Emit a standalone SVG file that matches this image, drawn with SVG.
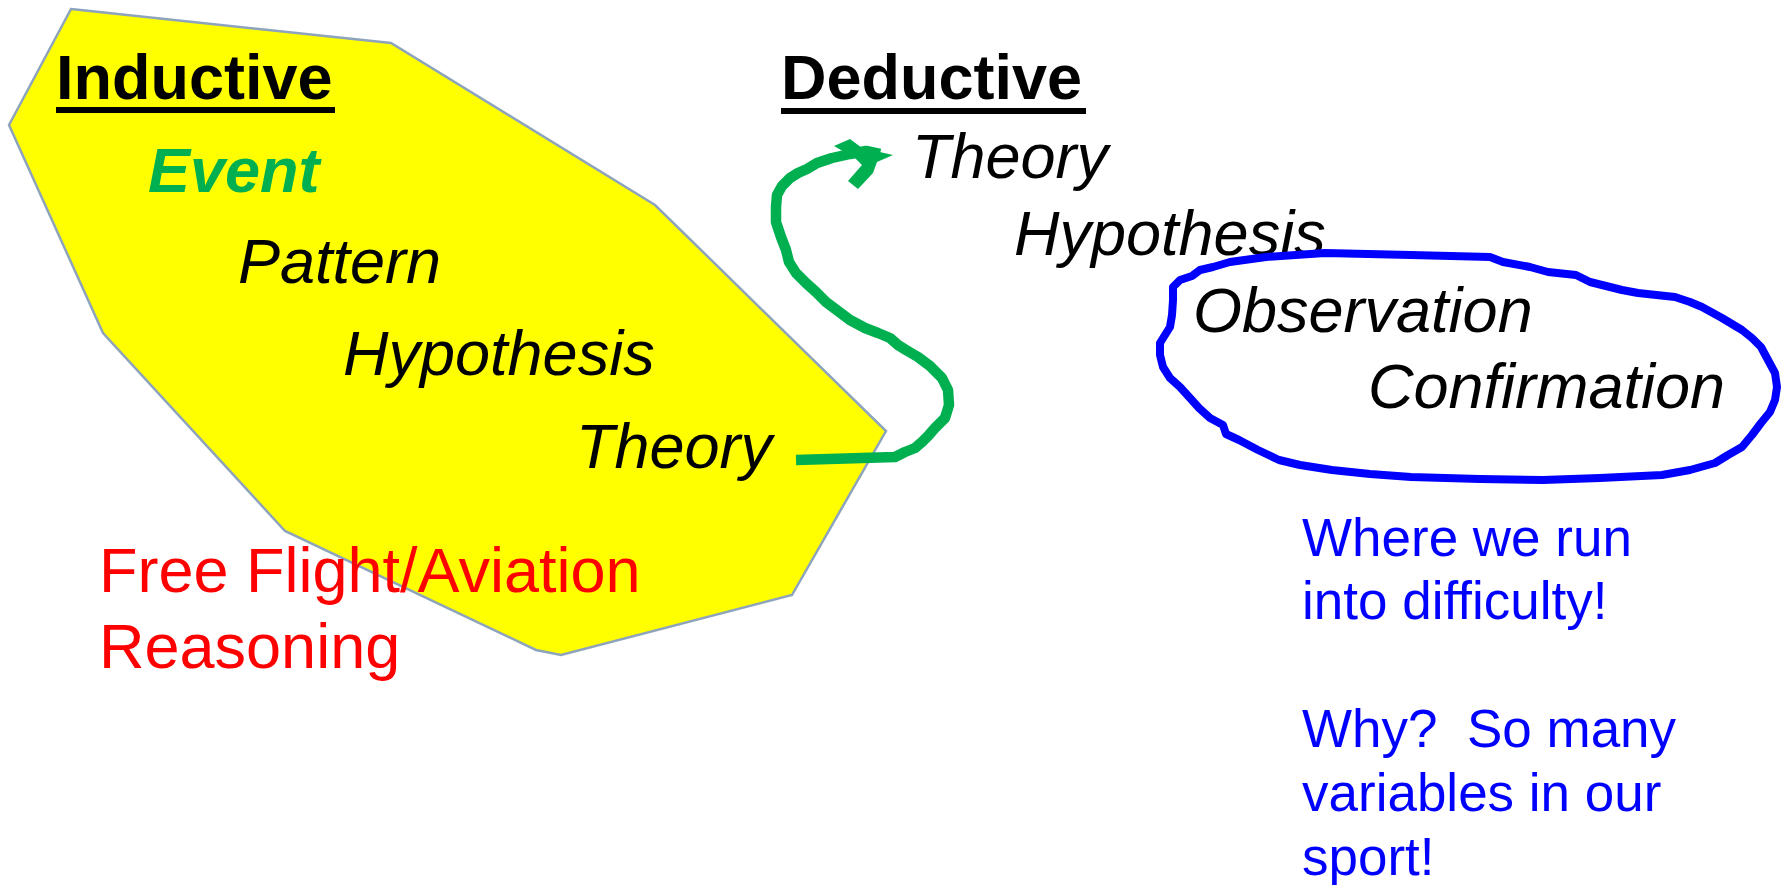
<svg xmlns="http://www.w3.org/2000/svg" width="1787" height="885" viewBox="0 0 1787 885">
<style>
.t{font-family:"Liberation Sans",Arial,sans-serif;font-size:63px;}
.h{font-weight:bold;fill:#000;}
.i{font-style:italic;fill:#000;}
.red{fill:#FF0000;}
.blue{fill:#0000FF;font-size:53px;}
</style>
<rect width="1787" height="885" fill="#fff"/>
<g id="inductive-region">
<polygon points="71,9 391,43 655,205 886,431 792,595 561,655 536,650 285,531 103,333 9,125" fill="#FFFF00" stroke="#8EA4BC" stroke-width="2.5"/>
</g>
<g id="inductive-title">
<text class="t h" x="56" y="99">Inductive</text>
<rect x="56" y="107" width="279" height="6" fill="#000"/>
</g>
<g id="event"><text class="t" x="148" y="192" font-weight="bold" font-style="italic" fill="#00B050">Event</text></g>
<g id="pattern"><text class="t i" x="238" y="283">Pattern</text></g>
<g id="hypothesis-ind"><text class="t i" x="343" y="375">Hypothesis</text></g>
<g id="theory-ind"><text class="t i" x="576" y="468">Theory</text></g>
<g id="free-flight"><text class="t red" x="99" y="592">Free Flight/Aviation</text><text class="t red" x="99" y="668">Reasoning</text></g>
<g id="deductive-title">
<text class="t h" x="781" y="99">Deductive</text>
<rect x="781" y="108" width="305" height="6" fill="#000"/>
</g>
<g id="theory-ded"><text class="t i" x="912" y="178">Theory</text></g>
<g id="hypothesis-ded"><text class="t i" x="1014" y="255">Hypothesis</text></g>
<g id="observation"><text class="t i" x="1193" y="332">Observation</text></g>
<g id="confirmation"><text class="t i" x="1368" y="408">Confirmation</text></g>
<g id="connectors" fill="none" stroke-linejoin="round" stroke-linecap="butt">
<path d="M796,460 L895,457 L905,452 L915,448 L922,442 L928,436 L935,428 L945,418 L949,405 L948,390 L942,378 L930,366 L918,357 L906,350 L898,345 L890,338 L878,333 L865,328 L850,320 L838,311 L826,302 L816,292 L806,283 L796,273 L789,262 L786,250 L781,237 L776,222 L776,207 L777,195 L782,186 L790,178 L798,173 L807,169 L817,163 L832,158 L850,154 L866,151 L880,154" stroke="#00B050" stroke-width="10.5"/>
<polygon points="834,146 850,139 862,148 893,155 877,162 873,173 858,189 848,181 862,165 855,158" fill="#00B050" stroke="none"/>
<path d="M1173,300 L1173,287 L1180,280 L1192,276 L1200,270 L1213,267 L1230,262 L1266,257 L1325,253 L1411,255 L1490,257 L1503,262 L1530,267 L1548,272 L1576,275 L1590,282 L1622,290 L1638,293 L1675,297 L1690,302 L1702,307 L1722,318 L1742,330 L1752,338 L1761,347 L1768,360 L1775,373 L1777,387 L1775,400 L1770,412 L1761,423 L1752,435 L1742,447 L1728,455 L1715,463 L1690,470 L1662,475 L1600,478 L1543,480 L1480,479 L1411,477 L1370,474 L1332,470 L1300,465 L1279,460 L1258,450 L1239,440 L1226,434 L1223,425 L1210,418 L1199,408 L1190,398 L1180,387 L1170,378 L1163,367 L1160,355 L1160,343 L1165,335 L1170,327 L1172,315 Z" stroke="#0000FF" stroke-width="8"/>
</g>
<g id="note">
<text class="t blue" x="1302" y="556">Where we run</text>
<text class="t blue" x="1302" y="619">into difficulty!</text>
<text class="t blue" x="1302" y="747" xml:space="preserve">Why?  So many</text>
<text class="t blue" x="1302" y="811">variables in our</text>
<text class="t blue" x="1302" y="875">sport!</text>
</g>
</svg>
